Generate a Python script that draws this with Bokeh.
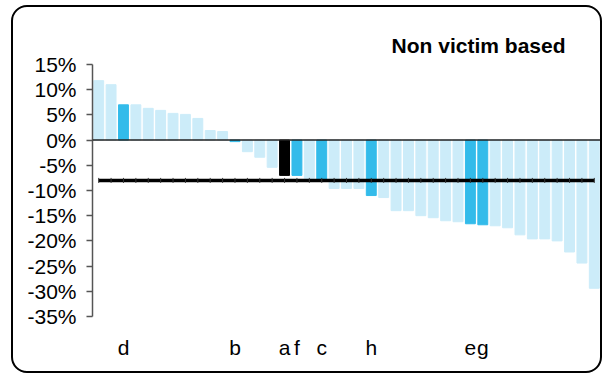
import math
from bokeh.plotting import figure
from bokeh.models import (ColumnDataSource, FixedTicker, PrintfTickFormatter,
                          Span, Title, InlineStyleSheet)
from bokeh.embed import file_html
from bokeh.resources import INLINE

# ---- data (values in %) ----
labels = ["", "", "d", "", "", "", "", "", "", "", "", "b", "", "", "", "a", "f", "",
          "c", "", "", "", "h", "", "", "", "", "", "", "", "e", "g", "", "", "", "",
          "", "", "", "", ""]
values = [11.8, 11.0, 7.0, 7.0, 6.3, 5.9, 5.3, 5.1, 4.3, 1.9, 1.7, -0.3, -2.3, -3.4,
          -5.4, -7.0, -7.0, -7.6, -7.9, -9.6, -9.6, -9.6, -11.0, -11.4, -14.0, -14.0,
          -15.0, -15.4, -16.0, -16.2, -16.6, -16.8, -17.0, -17.4, -18.8, -19.6, -19.6,
          -20.0, -22.2, -24.4, -29.4]
mean_value = -8.0
title_text = "Non victim based"
y_ticks = [15, 10, 5, 0, -5, -10, -15, -20, -25, -30, -35]

LIGHT = "#CCECF9"
BLUE = "#33BBEA"
BLACK = "#000000"

xs = list(range(1, len(values) + 1))
colors = [BLACK if l == "a" else (BLUE if l else LIGHT) for l in labels]
src = ColumnDataSource(dict(x=xs, top=values, color=colors))

FONT = "Liberation Sans"

p = figure(width=602, height=375, output_backend="svg", toolbar_location=None,
           x_range=(0.5, len(values) + 0.5), y_range=(-35, 15),
           min_border_left=92, min_border_right=2, min_border_top=64,
           min_border_bottom=59)
p.background_fill_color = None
p.border_fill_color = None
p.outline_line_color = None
p.xgrid.visible = False
p.ygrid.visible = False

p.vbar(x="x", top="top", bottom=0, width=0.8, color="color", source=src)

p.add_layout(Span(location=0, dimension="width", line_color="#222222",
                  line_width=1.5))

my = [mean_value] * len(xs)
p.line(xs, my, line_color="black", line_width=3.5)
p.scatter(xs, my, marker="dash", angle=math.pi / 2, size=5, line_color="#333333",
          line_width=1)

# y axis
ya = p.yaxis[0]
ya.ticker = FixedTicker(ticks=y_ticks)
ya.formatter = PrintfTickFormatter(format="%d%%")
ya.axis_line_color = "#555555"
ya.axis_line_width = 1.5
ya.major_tick_line_color = "#555555"
ya.major_tick_line_width = 1.5
ya.major_tick_out = 6
ya.major_tick_in = 0
ya.minor_tick_line_color = None
ya.major_label_text_font = FONT
ya.major_label_text_font_size = "21px"
ya.major_label_text_color = "black"
ya.major_label_standoff = 10

# x axis
xa = p.xaxis[0]
label_pos = [x for x, l in zip(xs, labels) if l]
xa.ticker = FixedTicker(ticks=label_pos)
xa.major_label_overrides = {x: l for x, l in zip(xs, labels) if l}
xa.axis_line_color = None
xa.major_tick_line_color = None
xa.minor_tick_line_color = None
xa.major_label_text_font = FONT
xa.major_label_text_font_size = "21px"
xa.major_label_text_color = "black"
xa.major_label_standoff = 13

p.title = Title(text=title_text, align="right", offset=35,
                text_font=FONT, text_font_size="21px", text_font_style="bold",
                text_color="black", standoff=15)

p.stylesheets = [InlineStyleSheet(css="""
:host { position: relative; }
:host::after {
  content: ""; position: absolute; left: 11px; top: 5px;
  width: 591px; height: 368px; box-sizing: border-box;
  border: 2px solid black; border-radius: 16px;
  pointer-events: none; z-index: 10;
}
""")]

open("out.html", "w").write(file_html(p, INLINE))
